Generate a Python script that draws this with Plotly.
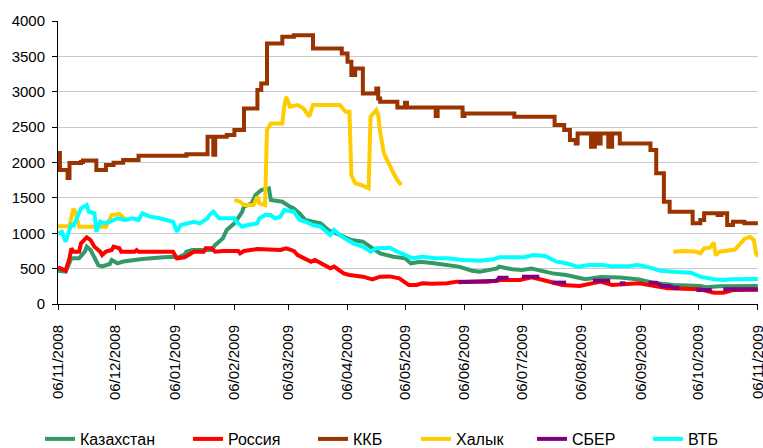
import plotly.graph_objects as go

# ---------------- data ----------------
kaz_dates = ["2008-11-06","2008-11-10","2008-11-13","2008-11-17","2008-11-20","2008-11-21","2008-11-23","2008-11-25","2008-11-27","2008-11-29","2008-12-03","2008-12-04","2008-12-07","2008-12-10","2008-12-16","2008-12-20","2008-12-31","2009-01-06","2009-01-07","2009-01-11","2009-01-12","2009-01-15","2009-01-25","2009-01-27","2009-01-29","2009-01-31","2009-02-02","2009-02-04","2009-02-06","2009-02-10","2009-02-11","2009-02-15","2009-02-17","2009-02-20","2009-02-24","2009-02-25","2009-03-03","2009-03-07","2009-03-09","2009-03-12","2009-03-15","2009-03-19","2009-03-23","2009-03-27","2009-03-31","2009-04-05","2009-04-08","2009-04-14","2009-04-19","2009-04-23","2009-04-30","2009-05-06","2009-05-09","2009-05-14","2009-05-21","2009-05-30","2009-06-03","2009-06-10","2009-06-14","2009-06-23","2009-06-24","2009-07-01","2009-07-06","2009-07-11","2009-07-18","2009-07-22","2009-07-29","2009-08-08","2009-08-16","2009-08-26","2009-09-05","2009-09-14","2009-09-23","2009-10-07","2009-10-10","2009-10-17","2009-11-06"]
kaz_vals = [471,457,646,646,740,810,763,646,551,532,565,622,575,600,622,636,660,667,650,700,740,763,763,834,881,928,1046,1093,1140,1300,1376,1423,1540,1611,1635,1470,1446,1376,1352,1281,1187,1163,1140,1046,999,951,904,881,787,716,669,646,575,598,575,551,528,471,457,504,528,490,480,500,457,433,410,350,380,374,345,292,268,254,236,250,254]

rus_dates = ["2008-11-06","2008-11-10","2008-11-12","2008-11-13","2008-11-14","2008-11-17","2008-11-18","2008-11-20","2008-11-21","2008-11-23","2008-11-25","2008-11-28","2008-11-29","2008-12-01","2008-12-04","2008-12-05","2008-12-08","2008-12-09","2008-12-16","2008-12-17","2008-12-18","2009-01-05","2009-01-07","2009-01-11","2009-01-14","2009-01-16","2009-01-21","2009-01-22","2009-01-25","2009-01-27","2009-01-31","2009-02-08","2009-02-09","2009-02-11","2009-02-18","2009-02-27","2009-03-02","2009-03-05","2009-03-09","2009-03-11","2009-03-15","2009-03-18","2009-03-20","2009-03-26","2009-03-28","2009-03-30","2009-04-04","2009-04-07","2009-04-14","2009-04-19","2009-04-23","2009-04-28","2009-05-03","2009-05-08","2009-05-12","2009-05-15","2009-05-20","2009-05-28","2009-06-02","2009-06-18","2009-06-25","2009-07-05","2009-07-11","2009-07-17","2009-07-27","2009-08-05","2009-08-16","2009-08-22","2009-09-05","2009-09-20","2009-10-07","2009-10-14","2009-10-19","2009-10-24","2009-11-06"]
rus_vals = [518,471,650,787,740,740,858,928,942,904,810,740,692,740,763,810,787,740,740,763,740,740,646,660,716,740,740,787,787,740,750,750,716,750,776,776,763,787,750,692,646,598,622,528,504,528,433,410,386,349,386,390,363,268,268,292,285,292,316,316,339,339,377,339,268,254,316,268,292,221,207,160,160,198,200]

kkb_dates = ["2008-11-06","2008-11-07","2008-11-09","2008-11-11","2008-11-12","2008-11-18","2008-11-19","2008-11-25","2008-11-26","2008-11-30","2008-12-01","2008-12-05","2008-12-10","2008-12-18","2009-01-12","2009-01-22","2009-01-23","2009-01-25","2009-01-26","2009-01-27","2009-02-02","2009-02-06","2009-02-10","2009-02-11","2009-02-17","2009-02-18","2009-02-20","2009-02-22","2009-02-23","2009-03-02","2009-03-03","2009-03-09","2009-03-18","2009-03-19","2009-04-02","2009-04-03","2009-04-06","2009-04-08","2009-04-10","2009-04-13","2009-04-14","2009-04-20","2009-04-21","2009-04-22","2009-04-23","2009-05-01","2009-05-02","2009-05-05","2009-05-06","2009-05-07","2009-05-21","2009-05-22","2009-05-23","2009-06-03","2009-06-05","2009-06-06","2009-07-01","2009-07-02","2009-07-21","2009-07-23","2009-07-27","2009-07-28","2009-07-31","2009-08-03","2009-08-04","2009-08-10","2009-08-11","2009-08-13","2009-08-14","2009-08-16","2009-08-19","2009-08-20","2009-08-22","2009-08-25","2009-08-26","2009-09-10","2009-09-11","2009-09-14","2009-09-18","2009-09-21","2009-09-30","2009-10-03","2009-10-07","2009-10-09","2009-10-15","2009-10-16","2009-10-18","2009-10-21","2009-10-24","2009-10-30","2009-11-06"]
kkb_vals = [2133,1893,1893,1780,1992,2007,2030,2030,1893,1893,1964,1997,2035,2096,2115,2115,2364,2364,2110,2364,2388,2459,2459,2765,2765,3024,3118,3118,3683,3683,3777,3800,3800,3613,3613,3542,3424,3236,3330,3330,2977,2977,3047,2906,2859,2859,2779,2779,2844,2779,2779,2656,2779,2779,2656,2694,2694,2647,2647,2529,2529,2459,2317,2270,2411,2411,2222,2411,2270,2411,2411,2222,2411,2411,2270,2270,2176,1847,1446,1304,1304,1140,1187,1281,1281,1257,1281,1116,1163,1140,1140]

halyk_dates = ["2008-11-06","2008-11-12","2008-11-14","2008-11-15","2008-11-17","2008-12-01","2008-12-03","2008-12-04","2008-12-08","2008-12-10","2008-12-12",
               "2009-01-01",
               "2009-02-06","2009-02-09","2009-02-11","2009-02-16","2009-02-18","2009-02-19","2009-02-22","2009-02-23","2009-02-25","2009-03-03","2009-03-04","2009-03-05","2009-03-07","2009-03-11","2009-03-14","2009-03-17","2009-03-19","2009-04-02","2009-04-05","2009-04-07","2009-04-08","2009-04-10","2009-04-13","2009-04-17","2009-04-18","2009-04-21","2009-04-22","2009-04-23","2009-04-25","2009-04-28","2009-04-30","2009-05-02","2009-05-04",
               "2009-07-01",
               "2009-09-23","2009-09-29","2009-10-05","2009-10-07","2009-10-09","2009-10-12","2009-10-14","2009-10-15","2009-10-17","2009-10-25","2009-10-28","2009-10-30","2009-11-02","2009-11-04","2009-11-05","2009-11-06"]
halyk_vals = [1100,1100,1345,1305,1093,1093,1200,1258,1272,1230,1178,
              None,
              1470,1446,1399,1399,1517,1423,1399,2459,2553,2553,2788,2929,2788,2812,2765,2647,2812,2812,2717,2717,1823,1705,1682,1635,2647,2741,2670,2435,2129,1940,1847,1752,1682,
              None,
              740,750,740,716,787,797,867,690,740,770,858,920,951,900,720,669]

sber_dates = ["2009-06-03","2009-06-14","2009-06-23","2009-06-24","2009-06-29","2009-07-02","2009-07-06","2009-07-15","2009-07-18","2009-07-22","2009-07-29","2009-08-05","2009-08-12","2009-08-21","2009-08-23","2009-08-26","2009-08-29","2009-09-05","2009-09-10","2009-09-14","2009-09-17","2009-09-21","2009-09-23","2009-09-26","2009-10-01","2009-10-05","2009-10-13","2009-10-16","2009-10-19","2009-11-06"]
sber_vals = [306,316,330,372,372,None,386,386,None,302,302,None,330,330,None,292,292,None,302,302,254,254,231,231,None,198,198,None,207,207]

vtb_dates = ["2008-11-06","2008-11-08","2008-11-10","2008-11-13","2008-11-14","2008-11-16","2008-11-18","2008-11-21","2008-11-22","2008-11-25","2008-11-26","2008-11-28","2008-11-30","2008-12-03","2008-12-07","2008-12-11","2008-12-15","2008-12-18","2008-12-20","2008-12-24","2008-12-29","2009-01-05","2009-01-07","2009-01-09","2009-01-14","2009-01-16","2009-01-19","2009-01-23","2009-01-24","2009-01-26","2009-01-29","2009-02-06","2009-02-07","2009-02-10","2009-02-13","2009-02-18","2009-02-19","2009-02-22","2009-02-25","2009-02-27","2009-03-02","2009-03-04","2009-03-09","2009-03-12","2009-03-15","2009-03-19","2009-03-23","2009-03-26","2009-03-28","2009-03-30","2009-04-03","2009-04-06","2009-04-09","2009-04-14","2009-04-18","2009-04-21","2009-04-28","2009-05-02","2009-05-08","2009-05-10","2009-05-15","2009-05-22","2009-05-28","2009-06-05","2009-06-14","2009-06-21","2009-06-24","2009-07-07","2009-07-12","2009-07-18","2009-07-24","2009-07-29","2009-08-04","2009-08-10","2009-08-17","2009-08-22","2009-08-30","2009-09-04","2009-09-09","2009-09-16","2009-09-23","2009-10-02","2009-10-07","2009-10-14","2009-10-19","2009-10-23","2009-11-06"]
vtb_vals = [999,1020,881,1140,1093,1211,1352,1399,1305,1281,1022,1163,1140,1163,1211,1187,1211,1187,1281,1234,1211,1163,1022,1116,1140,1163,1140,1211,1258,1305,1211,1211,1163,1093,1116,1140,1211,1258,1258,1211,1234,1328,1305,1187,1163,1116,1093,1022,975,1046,951,904,858,810,740,787,794,740,669,646,669,646,646,622,612,632,660,660,692,680,598,575,528,551,551,532,532,551,528,471,457,443,386,349,339,349,353]

tick_dates = ["2008-11-06","2008-12-06","2009-01-06","2009-02-06","2009-03-06","2009-04-06","2009-05-06",
              "2009-06-06","2009-07-06","2009-08-06","2009-09-06","2009-10-06","2009-11-06"]
y_ticks = [0, 500, 1000, 1500, 2000, 2500, 3000, 3500, 4000]

series = [
    ("Казахстан", kaz_dates, kaz_vals, "#339966", "linear"),
    ("Россия", rus_dates, rus_vals, "#FF0000", "linear"),
    ("ККБ", kkb_dates, kkb_vals, "#993300", "hv"),
    ("Халык", halyk_dates, halyk_vals, "#FFCC00", "linear"),
    ("СБЕР", sber_dates, sber_vals, "#800080", "linear"),
    ("ВТБ", vtb_dates, vtb_vals, "#00FFFF", "linear"),
]
# left edge (px in the 763-wide picture) of each legend entry
legend_left = [40, 188, 313, 416, 532, 648]

font_family = "Liberation Sans, Arial, sans-serif"
fig = go.Figure()
layout_legends = {}
for i, (name, xs, ys, color, shape) in enumerate(series):
    key = "legend" if i == 0 else f"legend{i+1}"
    fig.add_trace(go.Scatter(x=xs, y=ys, name=name, mode="lines",
                             line=dict(color=color, width=4, shape=shape),
                             connectgaps=False, legend=key))
    layout_legends[key] = dict(orientation="h", xref="container", yref="container",
                               x=legend_left[i] / 763, xanchor="left",
                               y=9 / 448, yanchor="middle",
                               font=dict(size=16, family=font_family, color="black"),
                               bgcolor="rgba(0,0,0,0)", borderwidth=0)

fig.update_layout(
    width=763, height=448,
    margin=dict(l=58, r=5, t=21, b=144, autoexpand=False),
    paper_bgcolor="white", plot_bgcolor="white",
    font=dict(family=font_family, size=15, color="black"),
    showlegend=True,
    xaxis=dict(type="date", range=["2008-11-06", "2009-11-06 02:00"],
               tickvals=tick_dates, tickformat="%d/%m/%Y", tickangle=-90,
               showgrid=False, showline=True, linecolor="black", linewidth=1,
               ticks="outside", ticklen=5, tickcolor="black",
               ticklabelstandoff=9, zeroline=False, automargin=False,
               ticklabeloverflow="allow",
               tickfont=dict(size=15)),
    yaxis=dict(range=[0, 4000], tickvals=y_ticks,
               showgrid=True, gridcolor="#C8C8C8", gridwidth=1,
               showline=True, linecolor="black", linewidth=1,
               ticks="outside", ticklen=5, tickcolor="black",
               ticklabelstandoff=4, zeroline=False, automargin=False,
               tickfont=dict(size=15)),
    **layout_legends,
)

fig.write_html("out.html", config={"displayModeBar": False},
               post_script="document.body.style.margin='0';document.body.style.padding='0';")
